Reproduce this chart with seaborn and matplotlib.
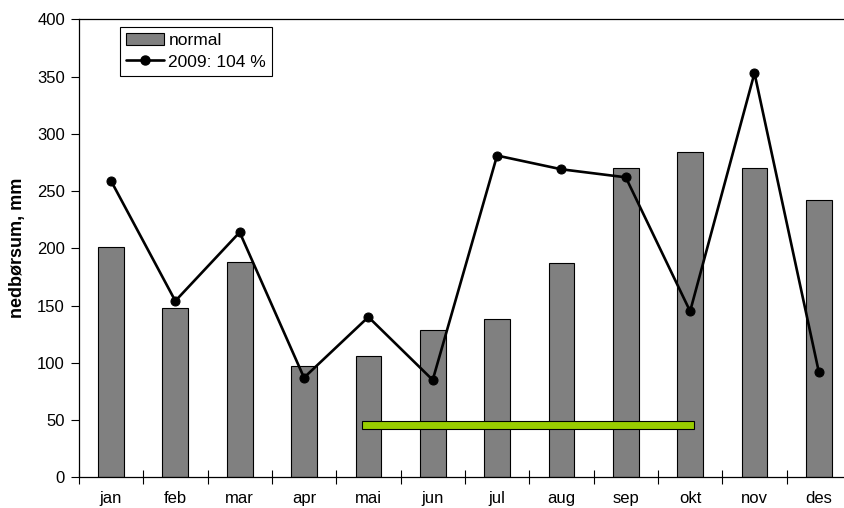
import matplotlib
matplotlib.use("Agg")
import matplotlib.pyplot as plt
import seaborn as sns
import numpy as np
import pandas as pd
from matplotlib.patches import Patch
from matplotlib.lines import Line2D
from matplotlib.ticker import MultipleLocator, FixedLocator

months = ["jan", "feb", "mar", "apr", "mai", "jun", "jul", "aug", "sep", "okt", "nov", "des"]
normal = [201, 148, 188, 97, 106, 129, 138, 187, 270, 284, 270, 242]
year_2009 = [259, 154, 214, 87, 140, 85, 281, 269, 262, 145, 353, 92]
green_span = [3.9, 9.06]   # category-index span of the green bar
green_level = [42, 49]     # value range of the green bar

sns.set_style("white")
plt.rcParams["font.family"] = ["Liberation Sans", "DejaVu Sans"]
plt.rcParams["text.color"] = "black"
plt.rcParams["axes.labelcolor"] = "black"
plt.rcParams["xtick.color"] = "black"
plt.rcParams["ytick.color"] = "black"

df = pd.DataFrame({"month": months, "normal": normal, "y2009": year_2009})

fig = plt.figure(figsize=(8.45, 5.08), dpi=100)
ax = fig.add_axes([78.8 / 845, (508 - 477.3) / 508, (851 - 78.8) / 845, (477.3 - 19.3) / 508])

sns.barplot(data=df, x="month", y="normal", color="#808080", saturation=1,
            width=0.4, edgecolor="black", linewidth=0.8, ax=ax, zorder=2)

ax.barh(y=(green_level[0] + green_level[1]) / 2, width=green_span[1] - green_span[0],
        left=green_span[0], height=green_level[1] - green_level[0],
        color="#99cc00", edgecolor="black", linewidth=0.8, zorder=3)

sns.lineplot(x=np.arange(len(months)), y=year_2009, color="black", linewidth=1.9,
             marker="o", markersize=6.5, markeredgecolor="black", ax=ax, zorder=4)

ax.set_xlim(-0.5, len(months) - 0.5)
ax.set_ylim(0, 400)
ax.yaxis.set_major_locator(MultipleLocator(50))
ax.set_xticks(np.arange(len(months)))
ax.set_xticklabels(months)
ax.xaxis.set_minor_locator(FixedLocator(np.arange(len(months) + 1) - 0.5))
ax.tick_params(axis="x", which="major", length=0, labelsize=12, pad=10, labelcolor="black")
ax.tick_params(axis="x", which="minor", direction="inout", length=10, width=0.8, color="black", bottom=True)
ax.tick_params(axis="y", which="major", direction="out", length=6, width=0.8, color="black",
               labelsize=12, left=True, pad=4, labelcolor="black")

ax.set_xlabel("")
ax.set_ylabel("nedbørsum, mm", fontsize=13, fontweight="bold", labelpad=8, color="black")

for s in ax.spines.values():
    s.set_color("black")
    s.set_linewidth(0.9)

handles = [Patch(facecolor="#808080", edgecolor="black", linewidth=0.8),
           Line2D([0], [0], color="black", linewidth=1.9, marker="o", markersize=6.5)]
leg = ax.legend(handles, ["normal", "2009: 104 %"], loc="upper left",
                bbox_to_anchor=(0.053, 0.983), fontsize=12.5, frameon=True, fancybox=False,
                framealpha=1, edgecolor="black", borderpad=0.35, handlelength=2.2,
                handletextpad=0.25, labelspacing=0.35, borderaxespad=0, labelcolor="black")
leg.get_frame().set_linewidth(0.8)

fig.savefig("out.png", dpi=100)
